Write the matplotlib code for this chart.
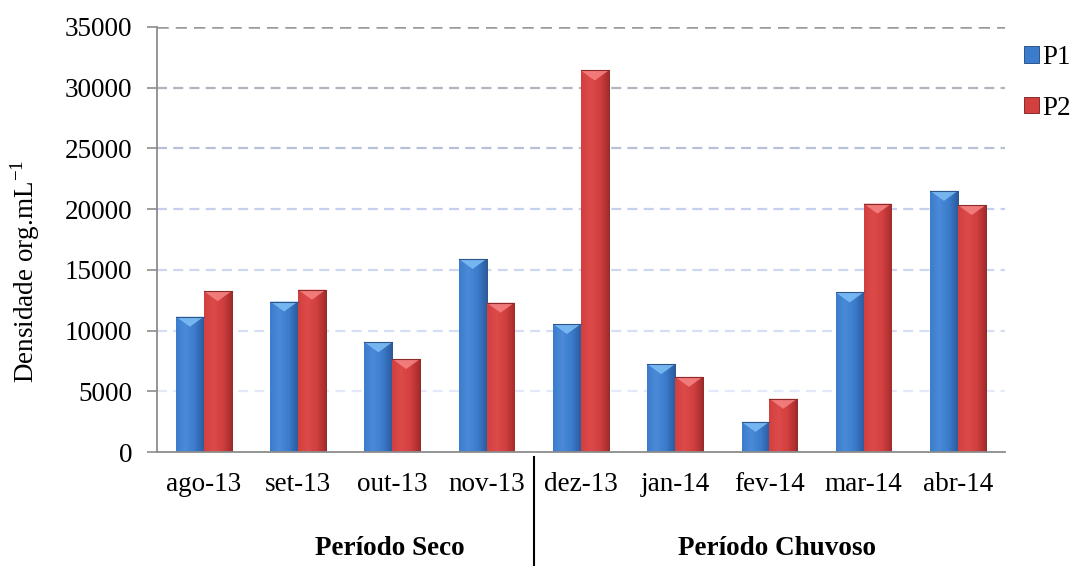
import numpy as np
import matplotlib
matplotlib.use("Agg")
import matplotlib.pyplot as plt
from matplotlib.colors import LinearSegmentedColormap, to_rgb
from matplotlib.patches import Patch, Polygon
import matplotlib.transforms as mtransforms

# Monthly density values for the two sampling points
months = ["ago-13", "set-13", "out-13", "nov-13", "dez-13",
          "jan-14", "fev-14", "mar-14", "abr-14"]
p1 = [11150, 12400, 9050, 15900, 10550, 7250, 2500, 13150, 21500]
p2 = [13250, 13370, 7670, 12300, 31400, 6200, 4400, 20450, 20330]
series_names = ["P1", "P2"]
yticks = [0, 5000, 10000, 15000, 20000, 25000, 30000, 35000]
period_labels = ["Período Seco", "Período Chuvoso"]

plt.rcParams["font.family"] = ["Liberation Serif", "DejaVu Serif"]
FS = 19.5

fig = plt.figure(figsize=(10.73, 5.66), dpi=100)
ax = fig.add_axes([0.146, 0.2009, 0.7906, 0.7519])

x = np.arange(len(months))
bw = 0.295

# (base, light, dark, cap highlight, edge)
styles = [
    ("#3b7ccc", "#4a8ad8", "#2b5c9e", "#7cbcf4", "#2e568c"),
    ("#d23f3f", "#dc4a4a", "#a42c2c", "#f48080", "#8c2a2a"),
]

ax.set_xlim(-0.5, len(months) - 0.5)
ax.set_ylim(0, 35000)

# gridlines shaded from grey at the top to pale blue at the bottom
grid_cols = {35000: "#9a9a9a", 30000: "#b2b4c0", 25000: "#b8c0d8",
             20000: "#c4d0ee", 15000: "#ccd8f2", 10000: "#d5def5",
             5000: "#e3e9f8"}
for v in yticks[1:]:
    ax.axhline(v, color=grid_cols[v], lw=1.8 if v == 35000 else 1.6,
               ls=(0, (4.5, 2.8)), zorder=0.5)

fig.canvas.draw()
inv = ax.transData.inverted()
# data height of ~10 px for the bevel on bar tops
p0 = inv.transform((0, 0))
p10 = inv.transform((0, 10))
cap_h = p10[1] - p0[1]

for si, (vals, st) in enumerate(zip([p1, p2], styles)):
    base, light, dark, cap, edge = st
    bars = ax.bar(x + (si - 0.5) * bw, vals, width=bw, color=base,
                  edgecolor=edge, linewidth=0.7, zorder=2,
                  label=series_names[si])
    cmap = LinearSegmentedColormap.from_list(
        "g%d" % si, [to_rgb(base), to_rgb(light), to_rgb(base), to_rgb(dark)],
        N=256)
    grad = np.linspace(0, 1, 256).reshape(1, -1)
    for b, v in zip(bars, vals):
        x0 = b.get_x()
        x1 = x0 + b.get_width()
        im = ax.imshow(grad, cmap=cmap, aspect="auto",
                       extent=(x0, x1, 0, v), zorder=2.1,
                       interpolation="bilinear")
        im.set_clip_path(b)
        tri = Polygon([(x0, v), (x1, v), ((x0 + x1) / 2, v - cap_h)],
                      closed=True, facecolor=cap, edgecolor="none",
                      zorder=2.3, alpha=0.9)
        ax.add_patch(tri)
        ax.plot([x0, x1], [v, v], color=edge, lw=0.8, zorder=2.4)

ax.set_xlim(-0.5, len(months) - 0.5)
ax.set_ylim(0, 35000)

ax.set_yticks(yticks)
ax.set_yticklabels([str(v) for v in yticks])
ax.set_xticks(x)
ax.set_xticklabels(months)

for side in ["top", "right"]:
    ax.spines[side].set_visible(False)
for side in ["left", "bottom"]:
    ax.spines[side].set_color("#8c8c8c")
    ax.spines[side].set_linewidth(1.3)

ax.tick_params(axis="y", direction="out", length=7.5, width=1.2,
               color="#8c8c8c", labelsize=FS, pad=10, labelcolor="black")
ax.tick_params(axis="x", length=0, labelsize=FS, pad=14, labelcolor="black")

# vertical divider between the dry and rainy periods
trans = mtransforms.blended_transform_factory(ax.transData, ax.transAxes)
ax.plot([3.5, 3.5], [-0.012, -0.27], transform=trans, color="black",
        lw=1.5, clip_on=False)

ax.text(0.275, -0.225, period_labels[0], transform=ax.transAxes,
        ha="center", va="center", fontsize=FS, fontweight="bold")
ax.text(0.731, -0.225, period_labels[1], transform=ax.transAxes,
        ha="center", va="center", fontsize=FS, fontweight="bold")

fig.text(25 / 1073, 1 - 271 / 566, "Densidade org.mL$^{\\mathregular{-1}}$",
         rotation=90, ha="center", va="center", fontsize=FS)

handles = [Patch(facecolor=styles[0][0], edgecolor=styles[0][4], lw=0.7),
           Patch(facecolor=styles[1][0], edgecolor=styles[1][4], lw=0.7)]
fig.legend(handles, series_names, loc="upper left",
           bbox_to_anchor=(1024 / 1073, 1 - 45 / 566), frameon=False,
           fontsize=FS, handlelength=0.55, handleheight=0.55,
           handletextpad=0.12, labelspacing=0.95, borderpad=0,
           borderaxespad=0)

fig.savefig("out.png", dpi=100)
